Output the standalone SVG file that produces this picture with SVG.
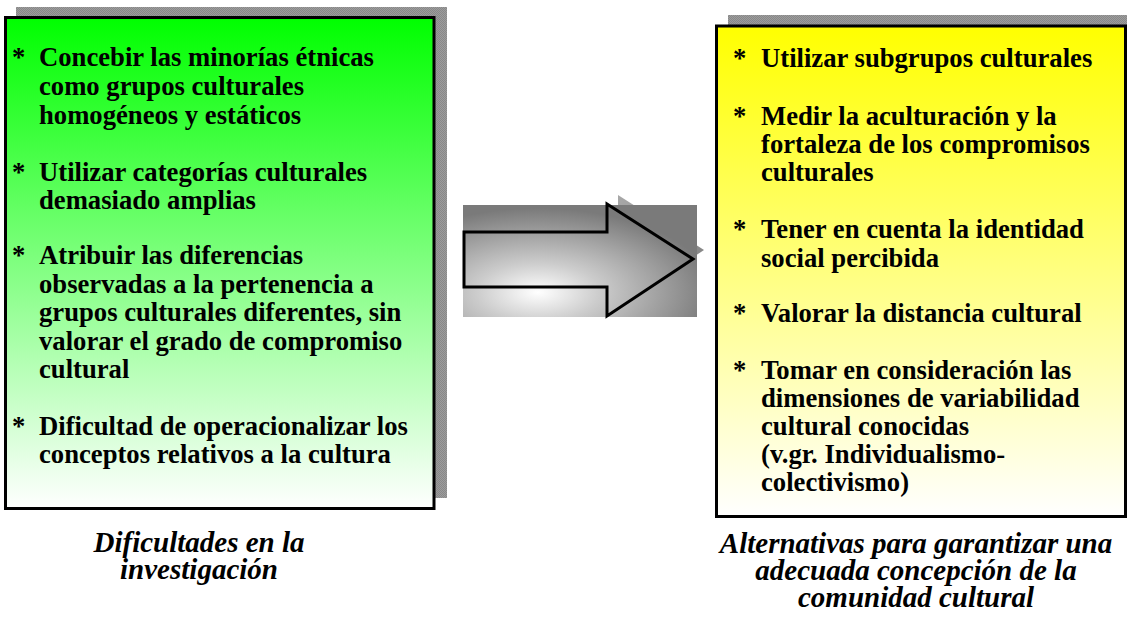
<svg xmlns="http://www.w3.org/2000/svg" width="1127" height="626" viewBox="0 0 1127 626">
  <defs>
    <pattern id="dots" width="2" height="2" patternUnits="userSpaceOnUse">
      <rect width="2" height="2" fill="#9c9c9c"/>
      <rect width="1" height="1" fill="#888888"/>
      <rect x="1" y="1" width="1" height="1" fill="#888888"/>
    </pattern>
    <linearGradient id="gGreen" x1="0" y1="0" x2="0" y2="1">
      <stop offset="0" stop-color="#00ff00"/>
      <stop offset="1" stop-color="#ffffff"/>
    </linearGradient>
    <linearGradient id="gYellow" x1="0" y1="0" x2="0" y2="1">
      <stop offset="0" stop-color="#ffff00"/>
      <stop offset="1" stop-color="#ffffff"/>
    </linearGradient>
    <radialGradient id="gBevel" cx="0.32" cy="0.78" r="0.75">
      <stop offset="0" stop-color="#ffffff"/>
      <stop offset="0.35" stop-color="#cccccc"/>
      <stop offset="1" stop-color="#7a7a7a"/>
    </radialGradient>
    <linearGradient id="gShadow" x1="0" y1="0" x2="1" y2="1">
      <stop offset="0" stop-color="#a8a8a8"/>
      <stop offset="1" stop-color="#7c7c7c"/>
    </linearGradient>
    <style>
      .box { stroke: #000; stroke-width: 3; }
      .body { font-family: "Liberation Serif", "Times New Roman", serif; font-weight: bold; font-size: 26.67px; fill: #000; }
      .cap { font-family: "Liberation Serif", "Times New Roman", serif; font-weight: bold; font-style: italic; font-size: 29px; fill: #000; text-anchor: middle; }
    </style>
  </defs>
  <rect width="1127" height="626" fill="#ffffff"/>

  <g id="left-box">
    <rect x="16" y="7" width="431" height="491" fill="url(#dots)"/>
    <rect class="box" x="5.5" y="17.5" width="428.5" height="491" fill="url(#gGreen)"/>
    <g class="body">
      <text x="12" y="66">*</text>
      <text x="39" y="66">Concebir las minorías étnicas</text>
      <text x="39" y="95">como grupos culturales</text>
      <text x="39" y="124">homogéneos y estáticos</text>
      <text x="12" y="181">*</text>
      <text x="39" y="181">Utilizar categorías culturales</text>
      <text x="39" y="209">demasiado amplias</text>
      <text x="12" y="264">*</text>
      <text x="39" y="264">Atribuir las diferencias</text>
      <text x="39" y="293">observadas a la pertenencia a</text>
      <text x="39" y="321">grupos culturales diferentes, sin</text>
      <text x="39" y="350">valorar el grado de compromiso</text>
      <text x="39" y="378">cultural</text>
      <text x="12" y="435">*</text>
      <text x="39" y="435">Dificultad de operacionalizar los</text>
      <text x="39" y="463">conceptos relativos a la cultura</text>
    </g>
  </g>

  <g id="right-box">
    <rect x="728" y="15" width="402" height="491" fill="url(#dots)"/>
    <rect class="box" x="716.5" y="26" width="409" height="490.5" fill="url(#gYellow)"/>
    <g class="body">
      <text x="733" y="67">*</text>
      <text x="761" y="67">Utilizar subgrupos culturales</text>
      <text x="733" y="125">*</text>
      <text x="761" y="125">Medir la aculturación y la</text>
      <text x="761" y="153">fortaleza de los compromisos</text>
      <text x="761" y="181">culturales</text>
      <text x="733" y="238">*</text>
      <text x="761" y="238">Tener en cuenta la identidad</text>
      <text x="761" y="267">social percibida</text>
      <text x="733" y="322">*</text>
      <text x="761" y="322">Valorar la distancia cultural</text>
      <text x="733" y="379">*</text>
      <text x="761" y="379">Tomar en consideración las</text>
      <text x="761" y="407">dimensiones de variabilidad</text>
      <text x="761" y="435">cultural conocidas</text>
      <text x="761" y="463">(v.gr. Individualismo-</text>
      <text x="761" y="491">colectivismo)</text>
    </g>
  </g>

  <g id="connectors">
    <polygon points="618,195 704,250 618,307" fill="url(#gShadow)"/>
    <rect x="463" y="205" width="234" height="112" fill="url(#gBevel)"/>
    <polygon points="464,232 607,232 607,204 693,259 607,316 607,287 464,287" fill="none" stroke="#000" stroke-width="3" stroke-linejoin="miter"/>
  </g>

  <g id="caption-left">
    <text class="cap" x="199" y="552">Dificultades en la</text>
    <text class="cap" x="199" y="579">investigación</text>
  </g>
  <g id="caption-right">
    <text class="cap" x="916" y="553">Alternativas para garantizar una</text>
    <text class="cap" x="916" y="580">adecuada concepción de la</text>
    <text class="cap" x="916" y="607">comunidad cultural</text>
  </g>
</svg>
